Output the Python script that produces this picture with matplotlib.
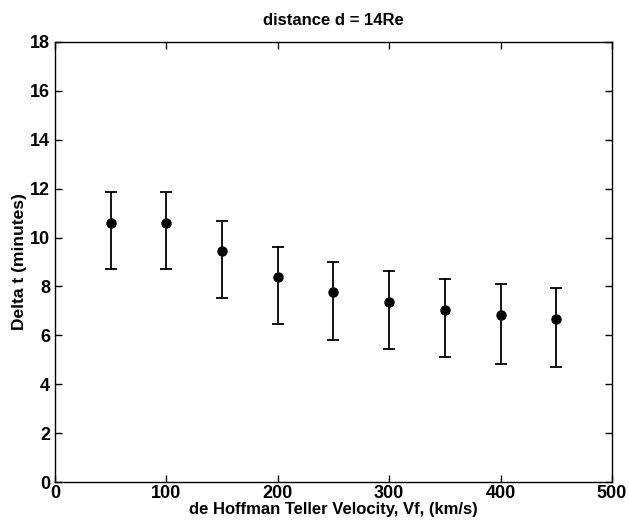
import matplotlib.pyplot as plt

velocity = [50, 100, 150, 200, 250, 300, 350, 400, 450]
delta_t = [10.61, 10.61, 9.44, 8.38, 7.76, 7.36, 7.05, 6.84, 6.68]
upper = [11.88, 11.88, 10.67, 9.63, 9.02, 8.62, 8.29, 8.09, 7.92]
lower = [8.71, 8.71, 7.51, 6.46, 5.81, 5.43, 5.10, 4.84, 4.72]

err_lo = [d - lo for d, lo in zip(delta_t, lower)]
err_hi = [hi - d for d, hi in zip(delta_t, upper)]

plt.rcParams["font.family"] = ["Liberation Sans", "DejaVu Sans"]
plt.rcParams["font.weight"] = "bold"

fig = plt.figure(figsize=(6.29, 5.22), dpi=100)
ax = fig.add_axes([0.0874, 0.0766, 0.8855, 0.843])

ax.errorbar(velocity, delta_t, yerr=[err_lo, err_hi], fmt="o", color="black",
            markersize=6.5, elinewidth=1.3, capsize=4, capthick=1.3)

ax.set_xlim(0, 500)
ax.set_ylim(0, 18)
ax.set_xticks(range(0, 501, 100))
ax.set_yticks(range(0, 19, 2))
ax.tick_params(direction="in", top=True, right=True, labelsize=13, length=5, width=1)
ax.tick_params(axis="x", pad=2)
for lbl in ax.get_xticklabels() + ax.get_yticklabels():
    lbl.set_fontweight("bold")
for sp in ax.spines.values():
    sp.set_linewidth(1.0)

ax.set_title("distance d = 14Re", fontsize=12, fontweight="bold", pad=12)
ax.set_xlabel("de Hoffman Teller Velocity, Vf, (km/s)", fontsize=12, fontweight="bold", labelpad=0)
ax.set_ylabel("Delta t (minutes)", fontsize=12.5, fontweight="bold", labelpad=2)

fig.savefig("out.png", dpi=100)
